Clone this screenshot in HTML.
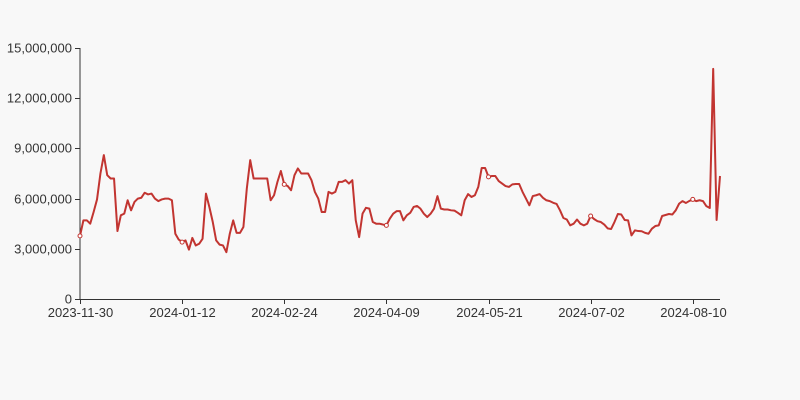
<!DOCTYPE html>
<html><head><meta charset="utf-8"><style>
body{margin:0;background:#f8f8f8;}
svg{display:block;font-family:"Liberation Sans",sans-serif;}
</style></head><body>
<svg id="chart" width="800" height="400">
<rect width="800" height="400" fill="#f8f8f8"/>
<g id="axes"></g><g id="series"></g>
</svg>
<script>
const values=[3.77,4.7,4.7,4.5,5.2,5.95,7.5,8.6,7.4,7.2,7.2,4.06,5.0,5.1,5.9,5.3,5.8,6.0,6.05,6.35,6.25,6.3,6.0,5.85,5.95,6.0,6.0,5.9,3.9,3.55,3.4,3.5,2.95,3.65,3.2,3.3,3.6,6.3,5.5,4.6,3.5,3.25,3.2,2.8,3.9,4.7,3.95,3.95,4.3,6.6,8.3,7.2,7.2,7.2,7.2,7.2,5.9,6.2,7.0,7.65,6.85,6.75,6.5,7.4,7.8,7.5,7.5,7.5,7.1,6.4,6.0,5.2,5.2,6.4,6.3,6.4,7.0,7.0,7.1,6.9,7.1,4.7,3.7,5.1,5.45,5.4,4.6,4.5,4.5,4.45,4.4,4.8,5.1,5.25,5.25,4.7,5.0,5.15,5.5,5.56,5.4,5.1,4.9,5.1,5.4,6.15,5.4,5.35,5.35,5.3,5.28,5.15,5.0,5.9,6.27,6.1,6.2,6.7,7.83,7.83,7.3,7.35,7.35,7.05,6.9,6.75,6.7,6.85,6.87,6.87,6.4,6.0,5.6,6.15,6.2,6.27,6.05,5.9,5.85,5.75,5.68,5.3,4.84,4.75,4.4,4.5,4.75,4.5,4.4,4.5,4.96,4.78,4.65,4.6,4.45,4.22,4.18,4.6,5.08,5.05,4.72,4.7,3.8,4.1,4.06,4.05,3.95,3.9,4.2,4.36,4.4,4.96,5.02,5.08,5.05,5.3,5.7,5.85,5.74,5.86,5.95,5.85,5.9,5.85,5.55,5.44,13.75,4.72,7.35].map(v=>v*1e6);
const xTickLabels=["2023-11-30","2024-01-12","2024-02-24","2024-04-09","2024-05-21","2024-07-02","2024-08-10"];
const xTickStep=30;
const yTicks=[0,3000000,6000000,9000000,12000000,15000000];
const yTickLabels=["0","3,000,000","6,000,000","9,000,000","12,000,000","15,000,000"];

const NS="http://www.w3.org/2000/svg";
const L=80,R=720,T=48,B=299,yMax=15e6;
const xs=i=>L+i*(R-L)/(values.length-1);
const ys=v=>B-(v/yMax)*(B-T);
const axes=document.getElementById('axes'),series=document.getElementById('series');
function mk(tag,attrs,parent){const e=document.createElementNS(NS,tag);for(const k in attrs)e.setAttribute(k,attrs[k]);parent.appendChild(e);return e;}

const ya=mk('line',{x1:L,y1:T,x2:L,y2:B,stroke:'#333'},axes);


yTicks.forEach((v,k)=>{
  const y=Math.round(ys(v))+0.5;
  const t=mk('line',{x1:L-5,y1:y,x2:L,y2:y,stroke:'#333'},axes);
  
  
  const lb=mk('text',{x:L-8,y:y+4,'text-anchor':'end','font-size':13,fill:'#333'},axes);
  lb.textContent=yTickLabels[k];
  
  
});
const xa=mk('line',{x1:L,y1:B+0.5,x2:R,y2:B+0.5,stroke:'#333'},axes);


xTickLabels.forEach((s,k)=>{
  const x=Math.round(xs(k*xTickStep))+0.5;
  const t=mk('line',{x1:x,y1:B,x2:x,y2:B+5,stroke:'#333'},axes);
  
  
  const lb=mk('text',{x:x,y:B+18,'text-anchor':'middle','font-size':13,fill:'#333'},axes);
  lb.textContent=s;
  
  
});
const d=values.map((v,i)=>(i?'L':'M')+xs(i).toFixed(2)+','+ys(v).toFixed(2)).join(' ');
const p=mk('path',{d:d,fill:'none',stroke:'#c23531','stroke-width':2,'stroke-linejoin':'round'},series);


for(let i=0;i<values.length;i+=xTickStep){
  const c=mk('circle',{cx:xs(i),cy:ys(values[i]),r:2,fill:'#fff',stroke:'#c23531','stroke-width':1},series);
  
  
}
</script>
</body></html>
